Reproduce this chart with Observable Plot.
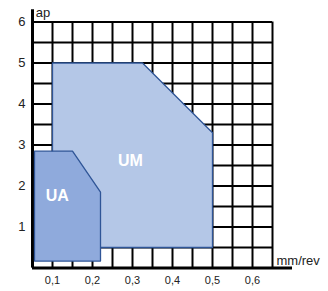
<!DOCTYPE html>
<html><head><meta charset="utf-8">
<script src="https://cdn.jsdelivr.net/npm/d3@7"></script>
<script src="https://cdn.jsdelivr.net/npm/@observablehq/plot@0.6"></script>
<style>body{margin:0;background:#fff;} svg{display:block;}</style>
</head><body><div id="chart"></div>
<script>
const xTicks = [0.1, 0.2, 0.3, 0.4, 0.5, 0.6];
const xTickLabels = ["0,1", "0,2", "0,3", "0,4", "0,5", "0,6"];
const yTicks = [1, 2, 3, 4, 5, 6];
const gridX = [0.05, 0.1, 0.15, 0.2, 0.25, 0.3, 0.35, 0.4, 0.45, 0.5, 0.55, 0.6, 0.65];
const gridY = [0, 0.5, 1, 1.5, 2, 2.5, 3, 3.5, 4, 4.5, 5, 5.5, 6];
const umFeed = [0.1, 0.1, 0.325, 0.5, 0.5, 0.1];
const umDepth = [0.5, 5, 5, 3.3, 0.5, 0.5];
const uaFeed = [0.055, 0.055, 0.15, 0.22, 0.22, 0.055];
const uaDepth = [0.17, 2.85, 2.85, 1.85, 0.17, 0.17];
const regionNames = ["UM", "UA"];
const labelFeed = [0.295, 0.112];
const labelDepth = [2.62, 1.77];
const xTitle = "mm/rev";
const yTitle = "ap";

const um = umFeed.map((f, i) => ({f, d: umDepth[i]}));
const ua = uaFeed.map((f, i) => ({f, d: uaDepth[i]}));
const labels = regionNames.map((n, i) => ({n, f: labelFeed[i], d: labelDepth[i]}));

const chart = Plot.plot({
  width: 328, height: 291,
  marginLeft: 32, marginRight: 56, marginTop: 21.5, marginBottom: 23.5,
  style: {fontFamily: "'Liberation Sans', Arial, sans-serif", background: "#fff"},
  x: {domain: [0.05, 0.65], label: null},
  y: {domain: [0, 6], label: null},
  marks: [
    Plot.ruleX(gridX, {y1: 0, y2: 6, stroke: "#000", strokeWidth: 2}),
    Plot.ruleY(gridY, {x1: 0.05, x2: 0.65, stroke: "#000", strokeWidth: 2}),
    Plot.ruleY([0], {x1: 0.05, x2: 0.7, stroke: "#000", strokeWidth: 3}),
    Plot.ruleX([0.05], {y1: 0, y2: 6.3, stroke: "#000", strokeWidth: 3}),
    Plot.line(um, {x: "f", y: "d", fill: "#b4c7e7", stroke: "#2f5597", strokeWidth: 1.3}),
    Plot.line(ua, {x: "f", y: "d", fill: "#8faadc", stroke: "#2f5597", strokeWidth: 1.3}),
    Plot.text(labels, {x: "f", y: "d", text: "n", fill: "#fff", fontWeight: "bold", fontSize: 16}),
    Plot.axisX(xTicks, {tickSize: 0, tickPadding: 8, tickFormat: (d, i) => xTickLabels[i], fontSize: 11, fill: "#222", label: null}),
    Plot.axisY(yTicks, {tickSize: 0, tickPadding: 7, fontSize: 13, fill: "#222", label: null}),
    Plot.text([yTitle], {x: 0.058, y: 6.23, text: d => d, textAnchor: "start", fontSize: 13, fill: "#222"}),
    Plot.text([xTitle], {x: 0.66, y: 0.18, text: d => d, textAnchor: "start", fontSize: 13, fill: "#222"})
  ]
});
document.getElementById("chart").append(chart);
</script>
</body></html>
